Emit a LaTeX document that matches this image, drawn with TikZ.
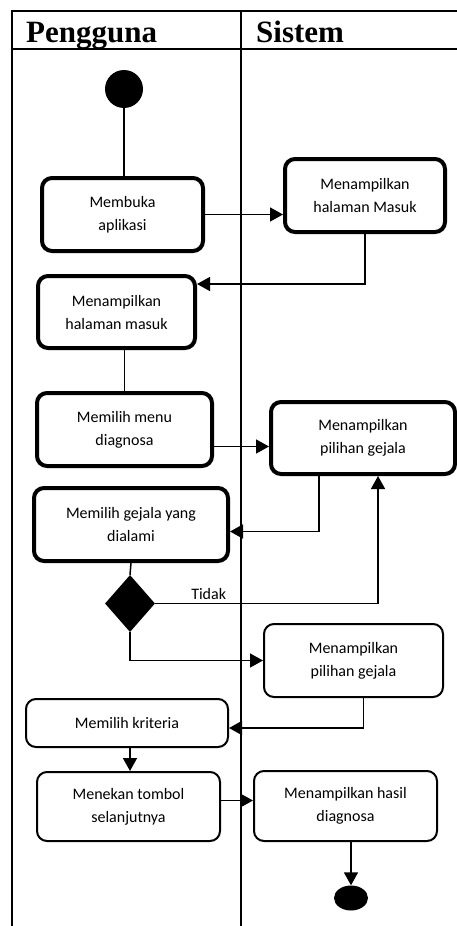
\documentclass[tikz,border=0pt]{standalone}
\usepackage{fontspec}
\setmainfont{Carlito}
\newfontfamily\lanefont{Liberation Serif}
\usetikzlibrary{arrows.meta, positioning, shapes.geometric}

\begin{document}
\begin{tikzpicture}[x=1pt, y=-1pt,
    font=\fontsize{16}{23}\selectfont,
    act/.style={draw, line width=4pt, rounded corners=10pt, align=center, inner sep=0pt},
    actthin/.style={draw, line width=2pt, rounded corners=10pt, align=center, inner sep=0pt},
    arr/.style={line width=1.5pt, -{Triangle[length=13pt, width=14pt]}},
    conn/.style={line width=1.5pt},
    lane/.style={line width=2pt}]
  \useasboundingbox (0,0) rectangle (457,926);

  % swimlanes
  \draw[lane] (457,11) -- (12,11) -- (12,926);
  \draw[lane] (12,49) -- (457,49);
  \draw[lane] (241,11) -- (241,926);
  \node[font=\lanefont\bfseries\fontsize{31}{31}\selectfont, anchor=base west, inner sep=0pt]
    (hdruser) at (26,42) {Pengguna};
  \node[font=\lanefont\bfseries\fontsize{31}{31}\selectfont, anchor=base west, inner sep=0pt]
    (hdrsys) at (256,42) {Sistem};

  % start and end
  \node[circle, fill, minimum size=38pt, inner sep=0pt] (start) at (124,89) {};
  \node[ellipse, fill, minimum width=34pt, minimum height=25pt, inner sep=0pt] (stop) at (351,898) {};

  % activities
  \node[act, minimum width=161pt, minimum height=73pt] (buka) at (122.5,214.5) {Membuka\\aplikasi};
  \node[act, minimum width=160pt, minimum height=73pt] (masuk) at (365,195.5) {Menampilkan\\halaman Masuk};
  \node[act, minimum width=157pt, minimum height=72pt] (masukuser) at (116.5,312) {Menampilkan\\halaman masuk};
  \node[act, minimum width=175pt, minimum height=73pt] (menu) at (124.5,429.5) {Memilih menu\\diagnosa};
  \node[act, minimum width=184pt, minimum height=72pt] (gejala) at (363,438) {Menampilkan\\pilihan gejala};
  \node[act, minimum width=194pt, minimum height=73pt] (pilihgejala) at (131,524.5) {Memilih gejala yang\\dialami};
  \node[diamond, fill, minimum width=50pt, minimum height=57pt, inner sep=0pt] (cek) at (130,603.5) {};
  \node[actthin, minimum width=179pt, minimum height=73pt] (gejalab) at (353.5,660.5) {Menampilkan\\pilihan gejala};
  \node[actthin, minimum width=202pt, minimum height=48pt] (kriteria) at (127,723) {Memilih kriteria};
  \node[actthin, minimum width=183pt, minimum height=69pt] (tombol) at (128.5,806.5) {Menekan tombol\\selanjutnya};
  \node[actthin, minimum width=183pt, minimum height=70pt] (hasil) at (345.5,806) {Menampilkan hasil\\diagnosa};

  % flows
  \draw[conn] (start) -- (start |- buka.north);
  \draw[arr] (buka.east) -- (buka.east -| masuk.west);
  \draw[arr] (masuk.south) |- ([yshift=28pt]masukuser.east);
  \draw[conn] (menu.north |- masukuser.south) -- (menu.north);
  \draw[arr] ([yshift=-17pt]menu.east) -- ([yshift=-17pt]menu.east -| gejala.west);
  \draw[arr] ([xshift=-44pt]gejala.south) |- ([yshift=-7pt]pilihgejala.east);
  \draw[conn] (pilihgejala.south) -- (cek.north);
  \draw[arr] (cek.east) -| node[pos=0.12, above, font=\fontsize{16}{16}\selectfont] (tidak) {Tidak}
    ([xshift=15pt]gejala.south);
  \draw[arr] (cek.south) |- (gejalab.west);
  \draw[arr] ([xshift=10pt]gejalab.south) |- ([yshift=-5pt]kriteria.east);
  \draw[arr] ([xshift=3pt]kriteria.south) -- ([xshift=3pt]kriteria.south |- tombol.north);
  \draw[arr] ([yshift=6pt]tombol.east) -- ([yshift=6pt]tombol.east -| hasil.west);
  \draw[arr] (stop.north |- hasil.south) -- (stop.north);
\end{tikzpicture}
\end{document}
